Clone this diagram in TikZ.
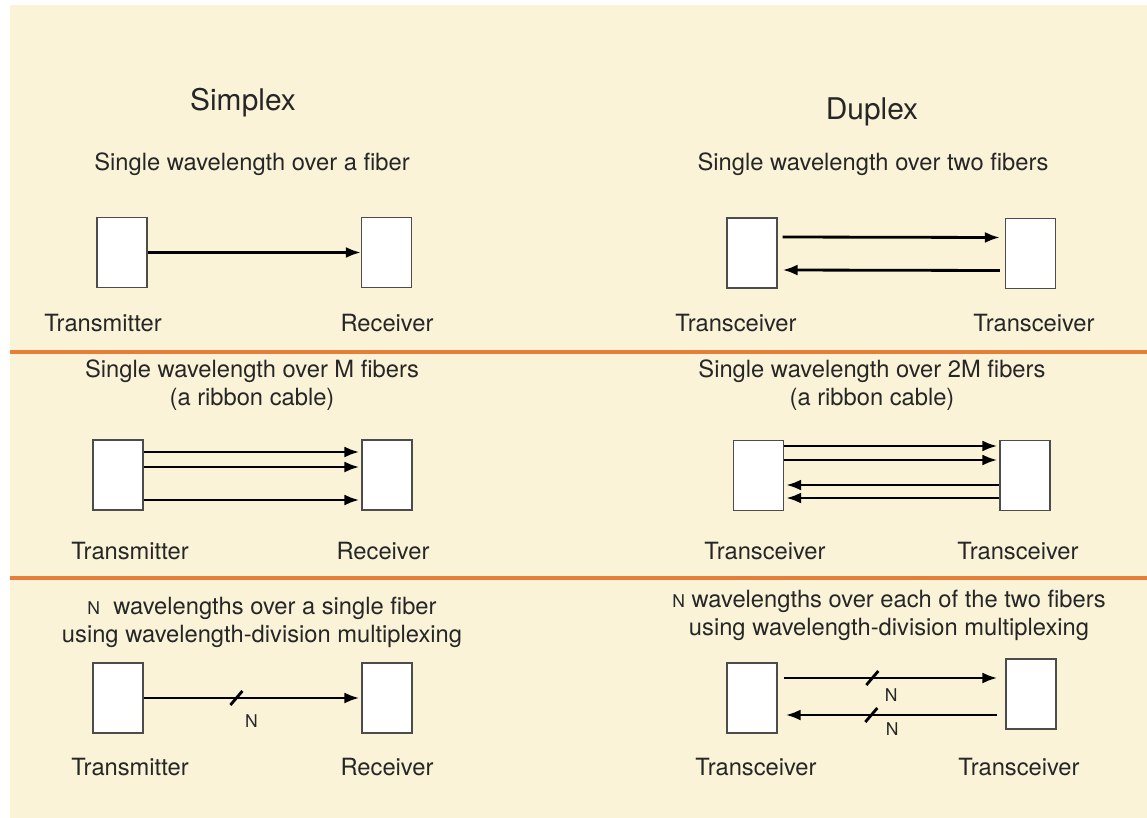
\documentclass[tikz,border=0pt]{standalone}
\usepackage{fontspec}
\setmainfont{TeX Gyre Heros}
\usepackage{xcolor}
\usepackage{tikz}
\usetikzlibrary{arrows.meta}
\usetikzlibrary{calc,positioning}
\definecolor{paper}{RGB}{250,243,216}
\definecolor{divider}{RGB}{232,125,55}
\tikzset{box-node/.style={draw=black!70, fill=white, line width=0.7pt, minimum width=1cm, minimum height=1.4cm, inner sep=0pt}}
\tikzset{fiber/.style={->, line width=1.6pt}}
\tikzset{wdm-tick/.style={line width=1.6pt}}
\tikzset{label-text/.style={font=\fontsize{13.5}{16}\selectfont, text=black!85, anchor=base}}
\tikzset{caption-text/.style={font=\fontsize{13.5}{16}\selectfont, text=black!85, align=center}}
\tikzset{title-text/.style={font=\fontsize{17}{20}\selectfont, text=black!85, anchor=base}}
\tikzset{n-text/.style={font=\fontsize{10}{11}\selectfont, text=black!85}}
\tikzset{>={Latex[length=3mm,width=2.2mm]}}
\newcommand{\smallN}{{\fontsize{10}{11}\selectfont N}}

\begin{document}
\begin{tikzpicture}[x=0.02cm, y=-0.02cm]
            \useasboundingbox (0,0) rectangle (1147,818);
            \fill [paper] (10,5) rectangle (1147,818);
            \draw [divider, line width=2.4pt] (10,352) -- (1147,352);
            \draw [divider, line width=2.4pt] (10,578) -- (1147,578);

            % titles
            \node [title-text] (simplex) at (243,110) {Simplex};
            \node [title-text] (duplex) at (872,119) {Duplex};

            % row 1
            \node [label-text] (cap1) at (252,170) {Single wavelength over a fiber};
            \node [label-text] (cap2) at (873,170) {Single wavelength over two fibers};
            \node [box-node] (tx1) at (122,252.5) {};
            \node [box-node] (rx1) at (386.5,252.5) {};
            \node [box-node] (tr1) at (752,253) {};
            \node [box-node] (tr2) at (1030.5,253.5) {};
            \draw [fiber] (tx1.east) -- (rx1.west);
            \draw [fiber] ($(tr1.east)+(5,-16)$) -- ($(tr2.west)+(-5,-16)$);
            \draw [fiber] ($(tr2.west)+(-5,17)$) -- ($(tr1.east)+(5,17)$);
            \node [label-text] (tx1-label) at (103,331) {Transmitter};
            \node [label-text] (rx1-label) at (387,331) {Receiver};
            \node [label-text] (tr1-label) at (736,331) {Transceiver};
            \node [label-text] (tr2-label) at (1034,331) {Transceiver};

            % row 2
            \node [caption-text] (cap3) at (252,385) {Single wavelength over M fibers\\(a ribbon cable)};
            \node [caption-text] (cap4) at (872,385) {Single wavelength over 2M fibers\\(a ribbon cable)};
            \node [box-node] (tx2) at (118,475) {};
            \node [box-node] (rx2) at (387,475) {};
            \node [box-node] (tr3) at (758.5,475.5) {};
            \node [box-node] (tr4) at (1025,475.5) {};
            \foreach \dy in {-23,-8,25}
                \draw [fiber] ($(tx2.east)+(0,\dy)$) -- ($(rx2.west)+(-2,\dy)$);
            \foreach \dy in {-29.5,-15.5}
                \draw [fiber] ($(tr3.east)+(0,\dy)$) -- ($(tr4.west)+(-2,\dy)$);
            \foreach \dy in {9.5,22.5}
                \draw [fiber] ($(tr4.west)+(0,\dy)$) -- ($(tr3.east)+(2,\dy)$);
            \node [label-text] (tx2-label) at (130,559) {Transmitter};
            \node [label-text] (rx2-label) at (383,559) {Receiver};
            \node [label-text] (tr3-label) at (765,559) {Transceiver};
            \node [label-text] (tr4-label) at (1018,559) {Transceiver};

            % row 3
            \node [caption-text] (cap5) at (262,622) {\smallN\ \ wavelengths over a single fiber\\using wavelength-division multiplexing};
            \node [caption-text] (cap6) at (889,615) {\smallN\ wavelengths over each of the two fibers\\using wavelength-division multiplexing};
            \node [box-node] (tx3) at (118,698) {};
            \node [box-node] (rx3) at (387,698) {};
            \node [box-node] (tr5) at (752,698) {};
            \node [box-node] (tr6) at (1031,694) {};
            \draw [fiber] (tx3.east) -- coordinate[pos=0.43] (tick1) ($(rx3.west)+(-2,0)$);
            \draw [wdm-tick] ($(tick1)+(-6,7)$) -- ($(tick1)+(6,-7)$);
            \node [n-text] (n1) at ($(tick1)+(15,23)$) {N};

            \coordinate (w1) at ($(tr5.east)+(6,-20)$);
            \coordinate (w2) at ($(tr5.east)+(8,17)$);
            \draw [fiber, shorten >=0.16cm] (w1) -- coordinate[pos=0.4] (tick2) (w1 -| tr6.west);
            \draw [fiber, shorten <=0.16cm] (w2 -| tr6.west) -- coordinate[pos=0.61] (tick3) (w2);
            \draw [wdm-tick] ($(tick2)+(-6,7)$) -- ($(tick2)+(6,-7)$);
            \draw [wdm-tick] ($(tick3)+(-6,7)$) -- ($(tick3)+(6,-7)$);
            \node [n-text] (n2) at ($(tick2)+(19,17)$) {N};
            \node [n-text] (n3) at ($(tick3)+(21,14)$) {N};
            \node [label-text] (tx3-label) at (130,775) {Transmitter};
            \node [label-text] (rx3-label) at (387,775) {Receiver};
            \node [label-text] (tr5-label) at (756,775) {Transceiver};
            \node [label-text] (tr6-label) at (1019,775) {Transceiver};
        \end{tikzpicture}
\end{document}
